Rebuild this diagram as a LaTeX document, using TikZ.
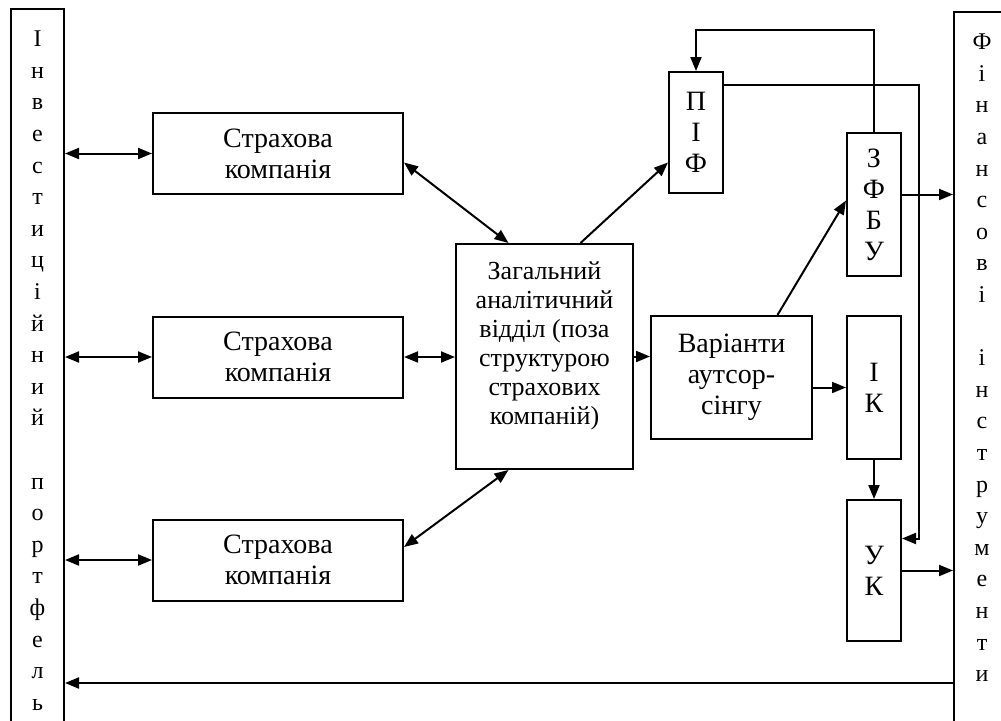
\documentclass[tikz,border=0pt]{standalone}
\usepackage{fontspec}
\setmainfont{Liberation Serif}
\usetikzlibrary{arrows.meta}

\begin{document}
\begin{tikzpicture}[x=1pt,y=-1pt,>={Triangle[length=14pt,width=11pt]},line width=2pt,
  blok/.style={draw,inner sep=0pt,align=center,font=\fontsize{28}{31}\selectfont},
  vuz/.style={blok,minimum width=54pt},
  stovp/.style={draw,anchor=north,inner xsep=0pt,inner ysep=22pt,align=center,text depth=60pt,font=\fontsize{24}{31.6}\selectfont}]
  \useasboundingbox (0,0) rectangle (1001,720);
  \node[stovp,minimum width=53pt] (inv) at (37.5,8) {І\\н\\в\\е\\с\\т\\и\\ц\\і\\й\\н\\и\\й\\[31.6pt]п\\о\\р\\т\\ф\\е\\л\\ь};
  \node[stovp,minimum width=56pt] (fin) at (982,11) {Ф\\і\\н\\а\\н\\с\\о\\в\\і\\[31.6pt]і\\н\\с\\т\\р\\у\\м\\е\\н\\т\\и};
  \node[blok,minimum width=250pt,minimum height=81pt] (sk1) at (278,153.5) {Страхова\\компанія};
  \node[blok,minimum width=250pt,minimum height=81pt] (sk2) at (278,357) {Страхова\\компанія};
  \node[blok,minimum width=250pt,minimum height=81pt] (sk3) at (278,560) {Страхова\\компанія};
  \node[blok,minimum width=177pt,minimum height=225pt,text depth=26pt,font=\fontsize{26}{29}\selectfont] (zad) at (544.5,356.5) {Загальний\\аналітичний\\відділ (поза\\структурою\\страхових\\компаній)};
  \node[blok,minimum width=161pt,minimum height=123pt] (var) at (731.5,377.5) {Варіанти\\аутсор-\\сінгу};
  \node[vuz,minimum height=121pt] (pif) at (696,132.5) {П\\І\\Ф};
  \node[vuz,minimum height=143pt] (zfbu) at (874,204.5) {З\\Ф\\Б\\У};
  \node[vuz,minimum height=143pt] (ik) at (874,387.5) {І\\К};
  \node[vuz,minimum height=141pt] (uk) at (874,570.5) {У\\К};
  \coordinate (zf) at ([yshift=10pt]zfbu.east);
  \coordinate (niz) at (0,683);
  \draw[<->] (sk1.west -| inv.east) -- (sk1.west);
  \draw[<->] (sk2.west -| inv.east) -- (sk2.west);
  \draw[<->] (sk3.west -| inv.east) -- (sk3.west);
  \draw[<->] ([yshift=-9pt]sk1.east) -- ([xshift=-36pt]zad.north);
  \draw[<->] (sk2.east) -- (sk2.east -| zad.west);
  \draw[<->] ([yshift=13pt]sk3.east) -- ([xshift=-36pt]zad.south);
  \draw[->] ([xshift=36pt]zad.north) -- ([yshift=-30pt]pif.west);
  \draw[->] (zad.east) -- (zad.east -| var.west);
  \draw[->] ([xshift=46pt]var.north) -- ([yshift=4pt]zfbu.west);
  \draw[->] (ik.west -| var.east) -- (ik.west);
  \draw[->] (ik.south) -- (uk.north);
  \draw[->] (zf) -- (zf -| fin.west);
  \draw[->] (uk.east) -- (uk.east -| fin.west);
  \draw[->] (niz -| fin.west) -- (niz -| inv.east);
  \draw[->] (zfbu.north) |- ([yshift=41pt]pif.north) -- (pif.north);
  \draw[->] ([yshift=48pt]pif.east) -| ([xshift=17pt,yshift=32pt]uk.east) -- ([yshift=32pt]uk.east);
\end{tikzpicture}
\end{document}
